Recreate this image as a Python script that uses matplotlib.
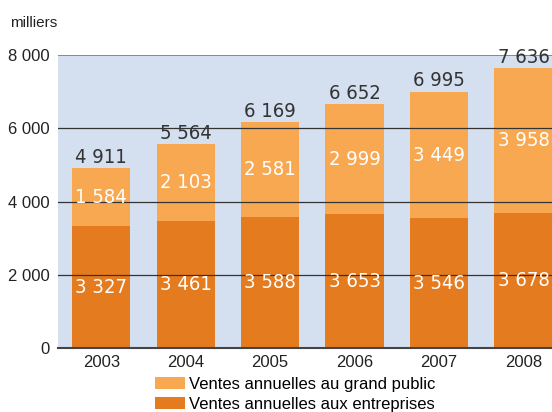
import matplotlib.pyplot as plt
from matplotlib.patches import Patch

# ================== DONNÉES ==================
annees = ["2003", "2004", "2005", "2006", "2007", "2008"]
entreprises = [3327, 3461, 3588, 3653, 3546, 3678]
grand_public = [1584, 2103, 2581, 2999, 3449, 3958]
totaux = [4911, 5564, 6169, 6652, 6995, 7636]
y_ticks = [0, 2000, 4000, 6000, 8000]
y_tick_labels = ["0", "2 000", "4 000", "6 000", "8 000"]

# couleurs
c_fond = "#d4dff0"
c_clair = "#f9a852"
c_fonce = "#e57b1f"
plt.rcParams["font.family"] = ["Liberation Sans", "DejaVu Sans"]


def fmt(v):
    return f"{v:,}".replace(",", " ")


fig = plt.figure(figsize=(5.52, 4.12), dpi=100)
ax = fig.add_axes([0.105, 0.155, 0.9, 0.7115])
ax.set_facecolor(c_fond)

x = list(range(len(annees)))
largeur = 0.69
ax.bar(x, entreprises, width=largeur, color=c_fonce, zorder=2)
ax.bar(x, grand_public, width=largeur, bottom=entreprises, color=c_clair, zorder=2)

# lignes de grille par-dessus les barres
for t in y_ticks[1:-1]:
    ax.axhline(t, color="#333333", lw=0.9, zorder=3)
ax.axhline(8000, color="#7a7a7a", lw=1.2, zorder=3)

# étiquettes de valeurs (police étroite)
lbl = dict(ha="center", family="DejaVu Sans", stretch="condensed", fontsize=14.5, zorder=4)
for i in x:
    ax.text(i, entreprises[i] / 2, fmt(entreprises[i]), va="center", color="white", **lbl)
    ax.text(i, entreprises[i] + grand_public[i] / 2, fmt(grand_public[i]),
            va="center", color="white", **lbl)
    ax.text(i, totaux[i] + 40, fmt(totaux[i]), va="bottom", color="#333333", **lbl)

ax.set_xlim(-0.512, 5.37)
ax.set_ylim(0, 8000)
ax.set_xticks(x)
ax.set_xticklabels(annees, fontsize=12, color="#222222")
ax.set_yticks(y_ticks)
ax.set_yticklabels(y_tick_labels, fontsize=12, color="#222222")
ax.tick_params(length=0, pad=6)
ax.tick_params(axis="x", pad=5)
for s in ["top", "right", "left"]:
    ax.spines[s].set_visible(False)
ax.spines["bottom"].set_color("#444444")
ax.spines["bottom"].set_linewidth(1.5)
ax.spines["bottom"].set_zorder(5)

fig.text(0.018, 0.945, "milliers", fontsize=11, color="#222222", va="center")

handles = [Patch(facecolor=c_clair, label="Ventes annuelles au grand public"),
           Patch(facecolor=c_fonce, label="Ventes annuelles aux entreprises")]
fig.legend(handles=handles, loc="upper left", bbox_to_anchor=(0.281, 0.085),
           frameon=False, fontsize=12, handlelength=1.8, handleheight=0.75,
           handletextpad=0.25, labelspacing=0.3, borderpad=0, borderaxespad=0)

fig.savefig("out.png", dpi=100)
